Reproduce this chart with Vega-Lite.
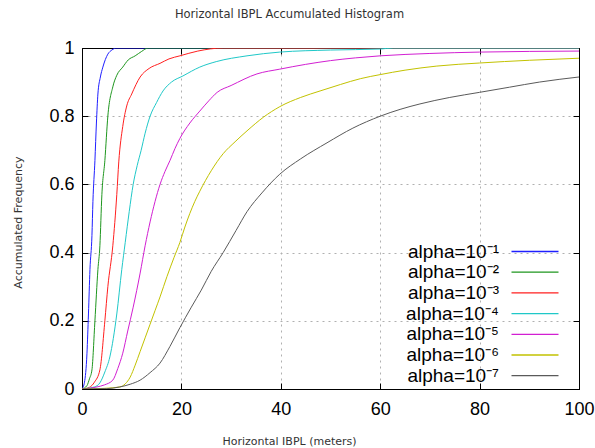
{
  "$schema": "https://vega.github.io/schema/vega-lite/v6.json",
  "width": 497,
  "height": 341,
  "autosize": "none",
  "padding": {"left": 82, "top": 48, "right": 16, "bottom": 59},
  "background": "white",
  "title": {
    "text": "Horizontal IBPL Accumulated Histogram",
    "font": "DejaVu Sans",
    "fontSize": 11.5,
    "fontWeight": "normal",
    "color": "#333333",
    "anchor": "middle",
    "frame": "group",
    "baseline": "middle",
    "dx": -41,
    "offset": 13
  },
  "config": {
    "view": {"stroke": "#000000", "strokeWidth": 1},
    "axis": {
      "labelFont": "Liberation Sans",
      "labelFontSize": 18,
      "labelColor": "#000000",
      "titleFont": "DejaVu Sans",
      "titleFontSize": 11,
      "titleFontWeight": "normal",
      "titleColor": "#333333",
      "domainColor": "#000000",
      "tickColor": "#000000",
      "tickSize": -6,
      "gridColor": "#b0b0b0",
      "gridDash": [2, 4],
      "gridOpacity": 1
    }
  },
  "data": {
    "values": [
      {"x": 0, "y": 0, "s": "alpha=10⁻¹"},
      {"x": 0.5, "y": 0.02, "s": "alpha=10⁻¹"},
      {"x": 1, "y": 0.105, "s": "alpha=10⁻¹"},
      {"x": 1.3, "y": 0.22, "s": "alpha=10⁻¹"},
      {"x": 1.6, "y": 0.35, "s": "alpha=10⁻¹"},
      {"x": 2, "y": 0.45, "s": "alpha=10⁻¹"},
      {"x": 2.2, "y": 0.55, "s": "alpha=10⁻¹"},
      {"x": 2.6, "y": 0.67, "s": "alpha=10⁻¹"},
      {"x": 2.9, "y": 0.78, "s": "alpha=10⁻¹"},
      {"x": 3.2, "y": 0.865, "s": "alpha=10⁻¹"},
      {"x": 3.7, "y": 0.915, "s": "alpha=10⁻¹"},
      {"x": 4.2, "y": 0.944, "s": "alpha=10⁻¹"},
      {"x": 5.2, "y": 0.982, "s": "alpha=10⁻¹"},
      {"x": 6, "y": 0.994, "s": "alpha=10⁻¹"},
      {"x": 7, "y": 1, "s": "alpha=10⁻¹"},
      {"x": 100, "y": 1, "s": "alpha=10⁻¹"},

      {"x": 0, "y": 0, "s": "alpha=10⁻²"},
      {"x": 1, "y": 0.01, "s": "alpha=10⁻²"},
      {"x": 1.5, "y": 0.03, "s": "alpha=10⁻²"},
      {"x": 2, "y": 0.056, "s": "alpha=10⁻²"},
      {"x": 2.6, "y": 0.2, "s": "alpha=10⁻²"},
      {"x": 3.2, "y": 0.35, "s": "alpha=10⁻²"},
      {"x": 3.6, "y": 0.42, "s": "alpha=10⁻²"},
      {"x": 4, "y": 0.57, "s": "alpha=10⁻²"},
      {"x": 4.6, "y": 0.67, "s": "alpha=10⁻²"},
      {"x": 5.2, "y": 0.8, "s": "alpha=10⁻²"},
      {"x": 6.2, "y": 0.886, "s": "alpha=10⁻²"},
      {"x": 7, "y": 0.92, "s": "alpha=10⁻²"},
      {"x": 8.2, "y": 0.944, "s": "alpha=10⁻²"},
      {"x": 9.3, "y": 0.965, "s": "alpha=10⁻²"},
      {"x": 10.7, "y": 0.977, "s": "alpha=10⁻²"},
      {"x": 12, "y": 0.99, "s": "alpha=10⁻²"},
      {"x": 13.3, "y": 1, "s": "alpha=10⁻²"},
      {"x": 100, "y": 1, "s": "alpha=10⁻²"},

      {"x": 0, "y": 0, "s": "alpha=10⁻³"},
      {"x": 1.5, "y": 0.005, "s": "alpha=10⁻³"},
      {"x": 2.5, "y": 0.02, "s": "alpha=10⁻³"},
      {"x": 3.6, "y": 0.056, "s": "alpha=10⁻³"},
      {"x": 4.6, "y": 0.2, "s": "alpha=10⁻³"},
      {"x": 5.2, "y": 0.3, "s": "alpha=10⁻³"},
      {"x": 6.2, "y": 0.42, "s": "alpha=10⁻³"},
      {"x": 7, "y": 0.57, "s": "alpha=10⁻³"},
      {"x": 7.4, "y": 0.666, "s": "alpha=10⁻³"},
      {"x": 8.2, "y": 0.77, "s": "alpha=10⁻³"},
      {"x": 9, "y": 0.83, "s": "alpha=10⁻³"},
      {"x": 10, "y": 0.865, "s": "alpha=10⁻³"},
      {"x": 11.7, "y": 0.915, "s": "alpha=10⁻³"},
      {"x": 13.5, "y": 0.94, "s": "alpha=10⁻³"},
      {"x": 15.7, "y": 0.955, "s": "alpha=10⁻³"},
      {"x": 17.5, "y": 0.968, "s": "alpha=10⁻³"},
      {"x": 19.7, "y": 0.977, "s": "alpha=10⁻³"},
      {"x": 23.3, "y": 0.991, "s": "alpha=10⁻³"},
      {"x": 28.4, "y": 1, "s": "alpha=10⁻³"},
      {"x": 100, "y": 1, "s": "alpha=10⁻³"},

      {"x": 0, "y": 0, "s": "alpha=10⁻⁴"},
      {"x": 1, "y": 0.002, "s": "alpha=10⁻⁴"},
      {"x": 2.5, "y": 0.006, "s": "alpha=10⁻⁴"},
      {"x": 3.6, "y": 0.018, "s": "alpha=10⁻⁴"},
      {"x": 4.6, "y": 0.05, "s": "alpha=10⁻⁴"},
      {"x": 5.6, "y": 0.094, "s": "alpha=10⁻⁴"},
      {"x": 7, "y": 0.22, "s": "alpha=10⁻⁴"},
      {"x": 8, "y": 0.35, "s": "alpha=10⁻⁴"},
      {"x": 8.7, "y": 0.43, "s": "alpha=10⁻⁴"},
      {"x": 9.5, "y": 0.52, "s": "alpha=10⁻⁴"},
      {"x": 10.3, "y": 0.6, "s": "alpha=10⁻⁴"},
      {"x": 11.1, "y": 0.655, "s": "alpha=10⁻⁴"},
      {"x": 11.9, "y": 0.7, "s": "alpha=10⁻⁴"},
      {"x": 12.7, "y": 0.75, "s": "alpha=10⁻⁴"},
      {"x": 13.7, "y": 0.8, "s": "alpha=10⁻⁴"},
      {"x": 15, "y": 0.84, "s": "alpha=10⁻⁴"},
      {"x": 16.3, "y": 0.874, "s": "alpha=10⁻⁴"},
      {"x": 18, "y": 0.9, "s": "alpha=10⁻⁴"},
      {"x": 20.3, "y": 0.918, "s": "alpha=10⁻⁴"},
      {"x": 23.7, "y": 0.944, "s": "alpha=10⁻⁴"},
      {"x": 27, "y": 0.96, "s": "alpha=10⁻⁴"},
      {"x": 33.2, "y": 0.977, "s": "alpha=10⁻⁴"},
      {"x": 39.8, "y": 0.988, "s": "alpha=10⁻⁴"},
      {"x": 50, "y": 0.994, "s": "alpha=10⁻⁴"},
      {"x": 60, "y": 0.997, "s": "alpha=10⁻⁴"},
      {"x": 62.6, "y": 1, "s": "alpha=10⁻⁴"},
      {"x": 100, "y": 1, "s": "alpha=10⁻⁴"},

      {"x": 0, "y": 0, "s": "alpha=10⁻⁵"},
      {"x": 1.5, "y": 0.002, "s": "alpha=10⁻⁵"},
      {"x": 3, "y": 0.006, "s": "alpha=10⁻⁵"},
      {"x": 4.5, "y": 0.012, "s": "alpha=10⁻⁵"},
      {"x": 6.2, "y": 0.026, "s": "alpha=10⁻⁵"},
      {"x": 7.2, "y": 0.06, "s": "alpha=10⁻⁵"},
      {"x": 8.2, "y": 0.105, "s": "alpha=10⁻⁵"},
      {"x": 9.2, "y": 0.17, "s": "alpha=10⁻⁵"},
      {"x": 10.3, "y": 0.24, "s": "alpha=10⁻⁵"},
      {"x": 11.7, "y": 0.34, "s": "alpha=10⁻⁵"},
      {"x": 12.7, "y": 0.42, "s": "alpha=10⁻⁵"},
      {"x": 13.7, "y": 0.49, "s": "alpha=10⁻⁵"},
      {"x": 14.7, "y": 0.55, "s": "alpha=10⁻⁵"},
      {"x": 15.7, "y": 0.6, "s": "alpha=10⁻⁵"},
      {"x": 16.7, "y": 0.638, "s": "alpha=10⁻⁵"},
      {"x": 17.7, "y": 0.67, "s": "alpha=10⁻⁵"},
      {"x": 18.7, "y": 0.705, "s": "alpha=10⁻⁵"},
      {"x": 19.7, "y": 0.735, "s": "alpha=10⁻⁵"},
      {"x": 21.7, "y": 0.78, "s": "alpha=10⁻⁵"},
      {"x": 23.7, "y": 0.815, "s": "alpha=10⁻⁵"},
      {"x": 25.5, "y": 0.845, "s": "alpha=10⁻⁵"},
      {"x": 27.2, "y": 0.87, "s": "alpha=10⁻⁵"},
      {"x": 30, "y": 0.89, "s": "alpha=10⁻⁵"},
      {"x": 35.2, "y": 0.924, "s": "alpha=10⁻⁵"},
      {"x": 39.8, "y": 0.938, "s": "alpha=10⁻⁵"},
      {"x": 45, "y": 0.952, "s": "alpha=10⁻⁵"},
      {"x": 50, "y": 0.963, "s": "alpha=10⁻⁵"},
      {"x": 55, "y": 0.971, "s": "alpha=10⁻⁵"},
      {"x": 60, "y": 0.977, "s": "alpha=10⁻⁵"},
      {"x": 70, "y": 0.984, "s": "alpha=10⁻⁵"},
      {"x": 80, "y": 0.988, "s": "alpha=10⁻⁵"},
      {"x": 90, "y": 0.99, "s": "alpha=10⁻⁵"},
      {"x": 100, "y": 0.991, "s": "alpha=10⁻⁵"},

      {"x": 0, "y": 0, "s": "alpha=10⁻⁶"},
      {"x": 4.6, "y": 0.002, "s": "alpha=10⁻⁶"},
      {"x": 7.6, "y": 0.006, "s": "alpha=10⁻⁶"},
      {"x": 8.7, "y": 0.015, "s": "alpha=10⁻⁶"},
      {"x": 9.7, "y": 0.035, "s": "alpha=10⁻⁶"},
      {"x": 10.7, "y": 0.07, "s": "alpha=10⁻⁶"},
      {"x": 11.7, "y": 0.11, "s": "alpha=10⁻⁶"},
      {"x": 12.7, "y": 0.15, "s": "alpha=10⁻⁶"},
      {"x": 13.7, "y": 0.19, "s": "alpha=10⁻⁶"},
      {"x": 14.7, "y": 0.23, "s": "alpha=10⁻⁶"},
      {"x": 15.7, "y": 0.27, "s": "alpha=10⁻⁶"},
      {"x": 17.1, "y": 0.33, "s": "alpha=10⁻⁶"},
      {"x": 18.5, "y": 0.385, "s": "alpha=10⁻⁶"},
      {"x": 19.7, "y": 0.43, "s": "alpha=10⁻⁶"},
      {"x": 20.7, "y": 0.475, "s": "alpha=10⁻⁶"},
      {"x": 21.7, "y": 0.515, "s": "alpha=10⁻⁶"},
      {"x": 22.7, "y": 0.55, "s": "alpha=10⁻⁶"},
      {"x": 23.7, "y": 0.58, "s": "alpha=10⁻⁶"},
      {"x": 26, "y": 0.64, "s": "alpha=10⁻⁶"},
      {"x": 28.4, "y": 0.69, "s": "alpha=10⁻⁶"},
      {"x": 30.8, "y": 0.725, "s": "alpha=10⁻⁶"},
      {"x": 33.2, "y": 0.757, "s": "alpha=10⁻⁶"},
      {"x": 36.5, "y": 0.797, "s": "alpha=10⁻⁶"},
      {"x": 39.8, "y": 0.828, "s": "alpha=10⁻⁶"},
      {"x": 44, "y": 0.855, "s": "alpha=10⁻⁶"},
      {"x": 47.9, "y": 0.874, "s": "alpha=10⁻⁶"},
      {"x": 52, "y": 0.893, "s": "alpha=10⁻⁶"},
      {"x": 56, "y": 0.91, "s": "alpha=10⁻⁶"},
      {"x": 60, "y": 0.922, "s": "alpha=10⁻⁶"},
      {"x": 65, "y": 0.935, "s": "alpha=10⁻⁶"},
      {"x": 71.4, "y": 0.947, "s": "alpha=10⁻⁶"},
      {"x": 80, "y": 0.956, "s": "alpha=10⁻⁶"},
      {"x": 90, "y": 0.964, "s": "alpha=10⁻⁶"},
      {"x": 100, "y": 0.97, "s": "alpha=10⁻⁶"},

      {"x": 0, "y": 0, "s": "alpha=10⁻⁷"},
      {"x": 5, "y": 0.001, "s": "alpha=10⁻⁷"},
      {"x": 7.6, "y": 0.006, "s": "alpha=10⁻⁷"},
      {"x": 9.7, "y": 0.014, "s": "alpha=10⁻⁷"},
      {"x": 11.7, "y": 0.026, "s": "alpha=10⁻⁷"},
      {"x": 13.7, "y": 0.048, "s": "alpha=10⁻⁷"},
      {"x": 15.7, "y": 0.076, "s": "alpha=10⁻⁷"},
      {"x": 17.7, "y": 0.125, "s": "alpha=10⁻⁷"},
      {"x": 19.7, "y": 0.18, "s": "alpha=10⁻⁷"},
      {"x": 22, "y": 0.24, "s": "alpha=10⁻⁷"},
      {"x": 24, "y": 0.29, "s": "alpha=10⁻⁷"},
      {"x": 26, "y": 0.345, "s": "alpha=10⁻⁷"},
      {"x": 28.4, "y": 0.4, "s": "alpha=10⁻⁷"},
      {"x": 31, "y": 0.465, "s": "alpha=10⁻⁷"},
      {"x": 33.2, "y": 0.52, "s": "alpha=10⁻⁷"},
      {"x": 36.2, "y": 0.575, "s": "alpha=10⁻⁷"},
      {"x": 39.8, "y": 0.63, "s": "alpha=10⁻⁷"},
      {"x": 44, "y": 0.675, "s": "alpha=10⁻⁷"},
      {"x": 49.3, "y": 0.722, "s": "alpha=10⁻⁷"},
      {"x": 54.5, "y": 0.765, "s": "alpha=10⁻⁷"},
      {"x": 60, "y": 0.8, "s": "alpha=10⁻⁷"},
      {"x": 64, "y": 0.82, "s": "alpha=10⁻⁷"},
      {"x": 68, "y": 0.836, "s": "alpha=10⁻⁷"},
      {"x": 74, "y": 0.855, "s": "alpha=10⁻⁷"},
      {"x": 80, "y": 0.87, "s": "alpha=10⁻⁷"},
      {"x": 86, "y": 0.885, "s": "alpha=10⁻⁷"},
      {"x": 92, "y": 0.9, "s": "alpha=10⁻⁷"},
      {"x": 100, "y": 0.915, "s": "alpha=10⁻⁷"}
    ]
  },
  "resolve": {"axis": {"x": "independent", "y": "independent"}},
  "layer": [
    {
      "mark": {"type": "line", "strokeWidth": 1, "clip": true, "interpolate": "monotone"},
      "encoding": {
        "x": {
          "field": "x",
          "type": "quantitative",
          "scale": {"domain": [0, 100], "nice": false, "zero": false},
          "axis": {
            "title": "Horizontal IBPL (meters)",
            "values": [0, 20, 40, 60, 80, 100],
            "grid": true,
            "labelPadding": 17,
            "labelFlush": false,
            "titleX": 207,
            "titleY": 52,
            "titleBaseline": "middle",
            "titleAnchor": null
          }
        },
        "y": {
          "field": "y",
          "type": "quantitative",
          "scale": {"domain": [0, 1], "nice": false, "zero": false},
          "axis": {
            "title": "Accumulated Frequency",
            "values": [0, 0.2, 0.4, 0.6, 0.8, 1],
            "labelExpr": "'' + datum.value",
            "grid": true,
            "labelPadding": 14,
            "labelFlush": false,
            "titleX": -64,
            "titleY": 174,
            "titleBaseline": "middle",
            "titleAlign": "center",
            "titleAngle": -90
          }
        },
        "color": {
          "field": "s",
          "type": "nominal",
          "scale": {
            "domain": ["alpha=10⁻¹", "alpha=10⁻²", "alpha=10⁻³", "alpha=10⁻⁴", "alpha=10⁻⁵", "alpha=10⁻⁶", "alpha=10⁻⁷"],
            "range": ["#1f1fff", "#1e961e", "#ff1f1f", "#1fc8c8", "#d21fd2", "#c2c200", "#5a5a5a"]
          },
          "legend": {
            "title": null,
            "orient": "none",
            "legendX": 420,
            "legendY": 194,
            "padding": 0,
            "symbolType": "M0,0H9.4",
            "symbolSize": 100,
            "symbolStrokeWidth": 1.3,
            "symbolOffset": 0,
            "labelAlign": "right",
            "labelOffset": -22,
            "labelFont": "Liberation Sans",
            "labelFontSize": 19,
            "labelColor": "#000000",
            "rowPadding": 0.7,
            "labelLimit": 200
          }
        }
      }
    },
    {
      "mark": {"type": "line", "strokeOpacity": 0, "clip": true},
      "encoding": {
        "x": {
          "field": "x",
          "type": "quantitative",
          "axis": {"orient": "top", "title": null, "labels": false, "grid": false, "values": [0, 20, 40, 60, 80, 100]}
        },
        "y": {
          "field": "y",
          "type": "quantitative",
          "axis": {"orient": "right", "title": null, "labels": false, "grid": false, "values": [0, 0.2, 0.4, 0.6, 0.8, 1]}
        },
        "detail": {"field": "s", "type": "nominal"}
      }
    }
  ]
}
